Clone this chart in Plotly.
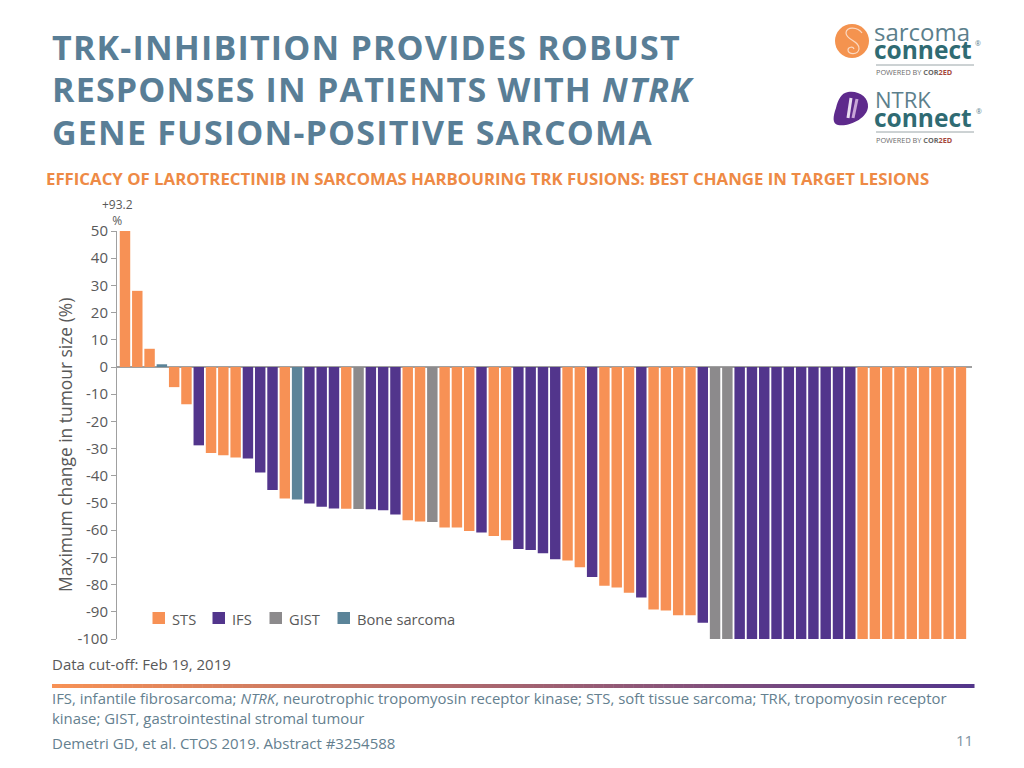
import numpy as np
import plotly.graph_objects as go

# best change in target lesions, one value per patient
values = [93.2, 28, 6.7, 1, -7.4, -13.7, -28.8, -31.6, -32.4, -33.3, -33.6, -38.8, -45.2,
          -48.3, -48.7, -50.2, -51.4, -52, -52.1, -52.2, -52.3, -52.7, -54.2, -56.3, -56.8, -57,
          -59, -59, -60.3, -60.8, -62.1, -63.7, -66.9, -67.3, -68.5, -70.7, -71.1, -73.6, -77.2,
          -80.4, -81.1, -83, -84.7, -89.2, -89.5, -91.3, -91.3, -94,
          -100, -100, -100, -100, -100, -100, -100, -100, -100, -100, -100, -100,
          -100, -100, -100, -100, -100, -100, -100, -100, -100]
tumour = list("SSSBSSISSSIIISBIIISGIIISSGSSSISSIIIISSISSSISSSSI"
              + "GG" + "I" * 10 + "S" * 9)
names = {"S": "STS", "I": "IFS", "G": "GIST", "B": "Bone sarcoma"}
colors = {"S": "#F79155", "I": "#52358C", "G": "#8C8A8C", "B": "#5B8499"}
y_ticks = list(range(-100, 51, 10))
y_labels = [str(v) for v in y_ticks]

W, H = 1024, 768
TEAL = "#597E96"
GREY = "#595959"
FOOT = "#64808F"
FONT = "Open Sans"
POWERED = 'POWERED BY <b>COR<span style="color:#A5483C">2ED</span></b>'


def px(x):
    return x / W


def py(y):
    return 1 - y / H


def label(x, y, text, size, color=GREY, anchor="left"):
    # annotations carry about 2px of padding around the text
    shift = {"left": -2, "right": 2, "center": 0}[anchor]
    return dict(x=px(x + shift), y=py(y), xref="paper", yref="paper", text=text, showarrow=False,
                xanchor=anchor, yanchor="middle", align=anchor,
                font=dict(size=size, color=color, family=FONT))


def path(*parts):
    # pixel coordinates from the top-left corner -> paper coordinates
    out = []
    for p in parts:
        out.append(p if isinstance(p, str) else f"{px(p[0]):.5f},{py(p[1]):.5f}")
    return " ".join(out)


def stroke(d, color, width):
    return dict(type="path", xref="paper", yref="paper", path=d, line=dict(color=color, width=width))


fig = go.Figure()
idx = np.arange(len(values))
for key in names:
    sel = [i for i in idx if tumour[i] == key]
    fig.add_bar(x=sel, y=[values[i] for i in sel], name=names[key],
                marker=dict(color=colors[key], line_width=0))

annotations = [
    label(52, 47, "<b>TRK-INHIBITION PROVIDES ROBUST</b>", 34, TEAL),
    label(52, 89, "<b>RESPONSES IN PATIENTS WITH <i>NTRK</i></b>", 34, TEAL),
    label(52, 132, "<b>GENE FUSION-POSITIVE SARCOMA</b>", 34, TEAL),
    label(46, 179, "<b>EFFICACY OF LAROTRECTINIB IN SARCOMAS HARBOURING TRK FUSIONS: BEST CHANGE IN TARGET LESIONS</b>",
          16.8, "#EE8A45"),
    label(117, 212.5, "+93.2<br>%", 12, GREY, "center"),
    dict(x=px(65), y=py(445), xref="paper", yref="paper", text="Maximum change in tumour size (%)",
         xanchor="center", yanchor="middle", textangle=-90, showarrow=False,
         font=dict(size=17.4, color=GREY, family=FONT)),
    label(52, 664, "Data cut-off: Feb 19, 2019", 15),
    label(52, 698, "IFS, infantile fibrosarcoma; <i>NTRK</i>, neurotrophic tropomyosin receptor kinase; "
                   "STS, soft tissue sarcoma; TRK, tropomyosin receptor", 14.9, FOOT),
    label(52, 718, "kinase; GIST, gastrointestinal stromal tumour", 14.9, FOOT),
    label(52, 743, "Demetri GD, et al. CTOS 2019. Abstract #3254588", 15, FOOT),
    label(973, 740, "11", 15, "#7F93A0", "right"),
    # logos
    label(874, 31, "sarcoma", 24, "#5C7F8C"),
    label(874, 49.5, "<b>connect</b>", 24.5, "#2F6B73"),
    label(876, 72.3, POWERED, 7.3, "#6A6A6A"),
    label(875, 99, "NTRK", 22, "#5C7F8C"),
    label(874, 117, "<b>connect</b>", 24.5, "#2F6B73"),
    label(876, 140, POWERED, 7.3, "#6A6A6A"),
    label(975, 44, "®", 7, "#5C7F8C"),
    label(976, 111, "®", 7, "#5C7F8C"),
]

shapes = [
    dict(type="circle", xref="paper", yref="paper", x0=px(835), x1=px(869), y0=py(24), y1=py(58),
         fillcolor="#F4934F", line_width=0),
    stroke(path("M", (862, 33), "C", (858, 27), (846, 26), (846, 33), "C", (846, 40), (860, 41), (859, 49),
                "C", (858, 55), (848, 55), (848, 50), "C", (848, 47), (853, 46), (854, 49)), "#FBD9C2", 1.2),
    dict(type="path", xref="paper", yref="paper", fillcolor="#5E2A8C", line_width=0,
         path=path("M", (848, 92), "C", (858, 90), (869, 97), (868, 107), "C", (867, 118), (850, 127), (838, 125),
                   "C", (832, 124), (833, 116), (836, 108), "C", (838, 100), (841, 93), (848, 92), "Z")),
    stroke(path("M", (851, 98), "L", (848, 118)), "#E9DDF0", 3),
    stroke(path("M", (857, 99), "L", (853, 118)), "#C9A6D8", 3),
    dict(type="line", xref="paper", yref="paper", x0=px(876), x1=px(974), y0=py(65), y1=py(65),
         line=dict(color="#9AA5A8", width=1)),
    dict(type="line", xref="paper", yref="paper", x0=px(876), x1=px(974), y0=py(132), y1=py(132),
         line=dict(color="#9AA5A8", width=1)),
]

# legend keys
key_x = {"S": 152.5, "I": 212.5, "G": 269.5, "B": 337.5}
for key, name in names.items():
    x0 = key_x[key]
    shapes.append(dict(type="rect", xref="paper", yref="paper", x0=px(x0), x1=px(x0 + 12.5),
                       y0=py(612), y1=py(624), fillcolor=colors[key], line_width=0))
    annotations.append(label(x0 + 19, 619, name, 14.7))

# gradient rule under the chart
stops = np.linspace(0, 1, 93)
for a, b in zip(stops[:-1], stops[1:]):
    c = [int(s + (e - s) * a) for s, e in zip((247, 145, 85), (82, 53, 140))]
    shapes.append(dict(type="rect", xref="paper", yref="paper",
                       x0=px(52 + a * 922), x1=px(52 + b * 922) + 0.0005, y0=py(684), y1=py(688),
                       fillcolor=f"rgb({c[0]},{c[1]},{c[2]})", line_width=0))

fig.update_layout(
    width=W, height=H, autosize=False, margin=dict(l=0, r=0, t=0, b=0),
    paper_bgcolor="white", plot_bgcolor="white", showlegend=False,
    barmode="overlay", bargap=0.15, annotations=annotations, shapes=shapes,
    font=dict(family=FONT, color=GREY),
)
fig.update_traces(width=0.85)
fig.update_xaxes(domain=[px(117), px(972)], range=[-0.65, 68.9], showticklabels=False,
                 showgrid=False, zeroline=False, ticks="", automargin=False)
fig.update_yaxes(domain=[py(639), py(231)], range=[-100, 50], tickvals=y_ticks, ticktext=y_labels,
                 automargin=False, ticks="outside", ticklen=5, tickcolor="#A0A0A0", tickwidth=1,
                 showline=True, linecolor="#A0A0A0", linewidth=1, showgrid=False,
                 zeroline=True, zerolinecolor="#A0A0A0", zerolinewidth=1.5,
                 tickfont=dict(size=15, color=GREY, family=FONT))

# the slide title is letter-spaced, plotly has no attribute for that
post = """
document.body.style.margin = '0';
var gd = document.getElementById('{plot_id}');
function spaceTitle() {
  document.querySelectorAll('.annotation-text').forEach(function (t) {
    if (parseFloat(t.style.fontSize) === 34) t.style.letterSpacing = '1.2px';
  });
}
spaceTitle();
gd.on('plotly_afterplot', spaceTitle);
"""
fig.write_html("out.html", post_script=post, config={"displayModeBar": False})
